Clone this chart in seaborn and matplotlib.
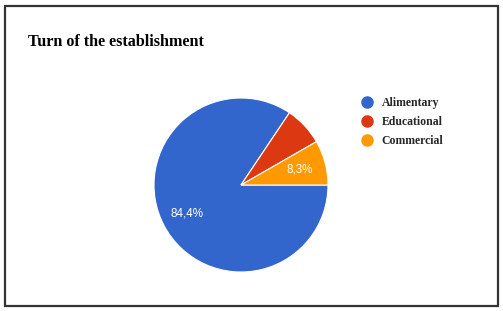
import matplotlib
matplotlib.use("Agg")
import matplotlib.pyplot as plt
from matplotlib.lines import Line2D
from matplotlib.patches import Rectangle
import seaborn as sns

# data
categories = ["Alimentary", "Educational", "Commercial"]
shares = [84.4, 7.3, 8.3]
shown = [True, False, True]  # google chart hides the educational label
colors = ["#3366CC", "#DC3912", "#FF9900"]

sns.set_theme(style="white")
palette = sns.color_palette(colors)

W, H = 503, 311
fig = plt.figure(figsize=(W / 100, H / 100), dpi=100)
fig.patch.set_facecolor("white")

# outer frame
fig.patches.append(Rectangle((5 / W, 5 / H), 493 / W, 300 / H, transform=fig.transFigure,
                             fill=False, edgecolor="#333333", linewidth=1.6))

# pie: centre (241, 185) px, radius 87 px
cx, cy, r = 241, 185, 87
ax = fig.add_axes([(cx - r) / W, (H - cy - r) / H, 2 * r / W, 2 * r / H])

labels_iter = iter(zip(shares, shown))


def fmt(pct):
    val, show = next(labels_iter)
    return f"{val:.1f}%".replace(".", ",") if show else ""


wedges, _, autotexts = ax.pie(shares, colors=palette, startangle=0, counterclock=False,
                              autopct=fmt, pctdistance=0.7,
                              wedgeprops=dict(edgecolor="white", linewidth=0.8))
for t in autotexts:
    t.set_color("white")
    t.set_fontsize(8.4)
    t.set_family("Liberation Sans")
ax.set_xlim(-1, 1)
ax.set_ylim(-1, 1)
ax.axis("off")

fig.text(28 / W, 1 - 42 / H, "Turn of the establishment", ha="left", va="center",
         fontsize=11.6, fontweight="bold", family="Liberation Serif", color="black")

handles = [Line2D([], [], marker="o", linestyle="none", markersize=8,
                  markerfacecolor=c, markeredgecolor=c) for c in palette]
leg = fig.legend(handles, categories, loc="upper left", bbox_to_anchor=(361 / W, 1 - 97 / H),
                 frameon=False, borderpad=0, borderaxespad=0, handlelength=1,
                 handletextpad=0.75, labelspacing=0.6,
                 prop=dict(family="Liberation Serif", weight="bold", size=8.5))

fig.savefig("out.png", dpi=100, facecolor="white")
